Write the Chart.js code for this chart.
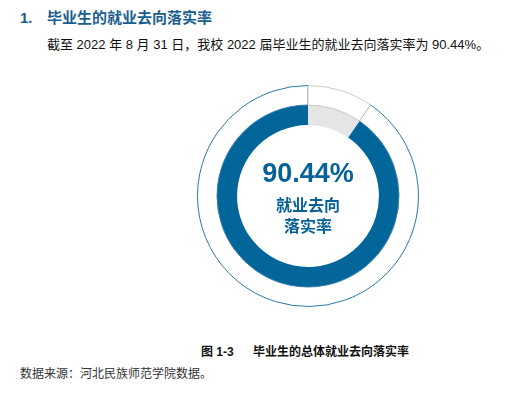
<!DOCTYPE html>
<html lang="zh-CN">
<head>
  <meta charset="UTF-8">
  <title>毕业生的总体就业去向落实率</title>
  <script src="https://cdn.jsdelivr.net/npm/chart.js"></script>
  <style>
    body {
      margin: 0;
      width: 530px;
      height: 405px;
      background: #fff;
      position: relative;
      overflow: hidden;
      font-family: 'Liberation Sans', 'Noto Sans CJK SC', sans-serif;
    }
    .t { position: absolute; white-space: nowrap; line-height: 1; }
    #heading { left: 20px; top: 10px; font-size: 15px; font-weight: bold; color: #1a5e8e; }
    #heading span { display: inline-block; width: 27px; }
    #intro { left: 47px; top: 38px; font-size: 13px; color: #111; }
    #big { left: 208px; width: 200px; text-align: center; top: 160px; font-size: 27px; font-weight: bold; color: #07629a; }
    .lbl { left: 208px; width: 200px; text-align: center; font-size: 16px; font-weight: bold; color: #07629a; }
    #caption { left: 201px; top: 346px; font-size: 12px; font-weight: bold; color: #111; }
    #caption span { display: inline-block; width: 52px; }
    #source { left: 20px; top: 368px; font-size: 12px; color: #333; }
    #wrap { position: absolute; left: 197px; top: 85px; width: 222px; height: 222px; }
  </style>
</head>
<body>
  <div class="t" id="heading"><span>1.</span>毕业生的就业去向落实率</div>
  <div class="t" id="intro">截至 2022 年 8 月 31 日，我校 2022 届毕业生的就业去向落实率为 90.44%。</div>

  <div id="wrap"><canvas id="chart" width="222" height="222"></canvas></div>
  <div class="t" id="big">90.44%</div>
  <div class="t lbl" style="top:198px">就业去向</div>
  <div class="t lbl" style="top:219px">落实率</div>

  <div class="t" id="caption"><span>图 1-3</span>毕业生的总体就业去向落实率</div>
  <div class="t" id="source">数据来源：河北民族师范学院数据。</div>

  <script>
    // 就业去向落实率（%）
    const categories = ['已落实', '未落实'];
    const rateValues = [90.44, 9.56];

    const blue = '#02669b';
    const grey = '#e5e5e5';

    new Chart(document.getElementById('chart'), {
      type: 'doughnut',
      data: {
        labels: categories,
        datasets: [
          {
            // thin outline ring
            data: rateValues,
            backgroundColor: ['#ffffff', '#ffffff'],
            borderColor: ['#2a78a8', '#c9c9c9'],
            borderWidth: 1,
            weight: 19.5
          },
          {
            data: rateValues,
            backgroundColor: [blue, grey],
            borderWidth: 0,
            weight: 20
          }
        ]
      },
      options: {
        responsive: false,
        animation: false,
        rotation: rateValues[1] / 100 * 360,
        cutout: '64.2%',
        plugins: {
          legend: { display: false },
          tooltip: { enabled: false }
        },
        events: []
      }
    });
  </script>
</body>
</html>
